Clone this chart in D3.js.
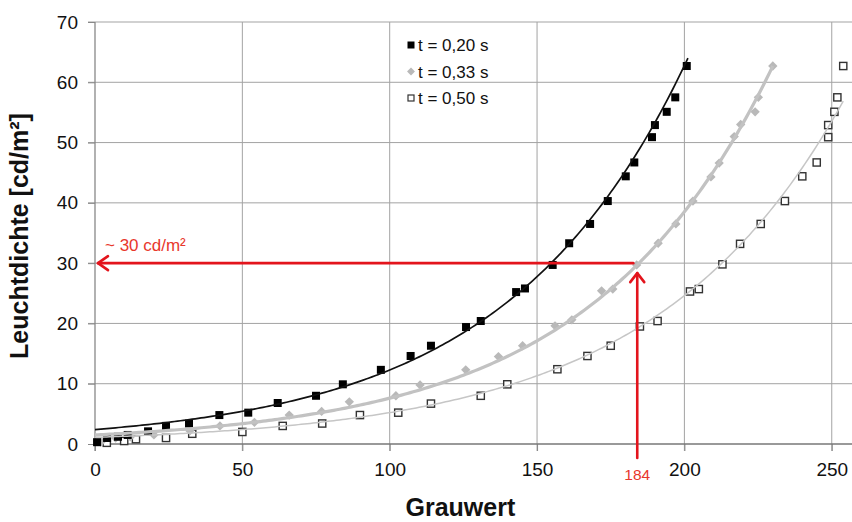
<!DOCTYPE html>
<html><head><meta charset="utf-8">
<script src="https://cdn.jsdelivr.net/npm/d3@7"></script>
<style>
body{margin:0;background:#fff}
svg{display:block}
text{font-family:"Liberation Sans",Arial,Helvetica,sans-serif}
</style>
</head><body>
<svg id="c" width="852" height="522"></svg>
<script>
// ---------- data ----------
const xTicks = [0, 50, 100, 150, 200, 250];
const yTicks = [0, 10, 20, 30, 40, 50, 60, 70];
const seriesNames = ["t = 0,20 s", "t = 0,33 s", "t = 0,50 s"];

const s020X = [0.7, 4.1, 7.8, 11.1, 18.0, 24.1, 31.9, 42.2, 52.0, 62.0, 75.0, 84.1, 97.0, 107.1, 114.0, 125.9, 130.9, 142.9, 145.9, 155.3, 160.9, 168.0, 174.0, 180.1, 183.0, 189.0, 190.0, 194.0, 196.9, 200.8];
const s020Y = [0.3, 1.0, 1.2, 1.5, 2.1, 3.0, 3.4, 4.8, 5.2, 6.8, 8.0, 9.9, 12.3, 14.6, 16.3, 19.4, 20.4, 25.2, 25.8, 29.7, 33.3, 36.5, 40.3, 44.4, 46.7, 50.9, 52.9, 55.1, 57.5, 62.7];

const s033X = [2.0, 7.0, 12.0, 20.0, 32.2, 42.4, 54.1, 65.9, 76.9, 86.3, 102.1, 110.3, 125.8, 136.9, 145.1, 156.1, 161.8, 171.9, 175.7, 183.8, 191.1, 197.1, 202.9, 209.0, 211.8, 216.9, 219.1, 224.0, 225.1, 230.0];
const s033Y = [0.3, 1.0, 1.2, 1.5, 2.2, 3.0, 3.6, 4.8, 5.4, 7.0, 8.0, 9.8, 12.3, 14.5, 16.3, 19.6, 20.6, 25.4, 25.7, 29.7, 33.3, 36.5, 40.3, 44.3, 46.6, 51.0, 53.0, 55.1, 57.5, 62.7];

const s050X = [4.0, 9.9, 13.9, 24.1, 33.0, 50.0, 63.7, 77.1, 89.9, 102.9, 114.0, 130.9, 139.9, 156.9, 167.1, 175.0, 184.9, 190.9, 201.9, 204.9, 212.9, 218.9, 225.9, 234.1, 240.0, 244.9, 248.8, 248.8, 250.9, 251.9, 253.9];
const s050Y = [0.2, 0.5, 0.8, 1.0, 1.7, 2.0, 3.0, 3.4, 4.8, 5.2, 6.7, 8.0, 9.9, 12.4, 14.6, 16.3, 19.5, 20.4, 25.3, 25.7, 29.8, 33.2, 36.5, 40.3, 44.4, 46.7, 50.9, 52.9, 55.1, 57.5, 62.7];

// exponential trendlines y = a * exp(b x), parameters
const trendA = [2.4, 1.5, 1.1];
const trendB = [0.01632, 0.01623, 0.01554];
const trendEnd = [201.2, 230.0, 253.9];

// annotation
const markX = 184, markY = 30;
const markXLabel = "184", markYLabel = "~ 30 cd/m²";

// ---------- chart ----------
const svg = d3.select("#c");
const W = 852, H = 522;
const x = d3.scaleLinear().domain([0, 260]).range([95, 95 + 260 * 2.947]);
const y = d3.scaleLinear().domain([0, 70]).range([444, 22]);
const gridCol = "#a3a3a3";

// grid
svg.append("g").selectAll("line.h").data(yTicks.filter(d => d > 0)).join("line")
  .attr("x1", 88).attr("x2", W).attr("y1", d => y(d)).attr("y2", d => y(d))
  .attr("stroke", gridCol).attr("stroke-width", 1);
svg.append("g").selectAll("line.v").data(xTicks.filter(d => d > 0)).join("line")
  .attr("x1", d => x(d)).attr("x2", d => x(d)).attr("y1", y(70)).attr("y2", y(0) + 7)
  .attr("stroke", gridCol).attr("stroke-width", 1);

// axes
const ax = svg.append("g").attr("transform", `translate(0,${y(0)})`)
  .call(d3.axisBottom(x).tickValues(xTicks).tickSize(7).tickPadding(12).tickFormat(d3.format("d")));
ax.select(".domain").remove();
ax.selectAll(".tick line").attr("stroke", "#888");
ax.selectAll("text").attr("font-size", 19).attr("fill", "#111");
svg.append("line").attr("x1", x(0)).attr("x2", W).attr("y1", y(0)).attr("y2", y(0))
  .attr("stroke", "#777").attr("stroke-width", 1.6);

const ay = svg.append("g").attr("transform", `translate(${x(0)},0)`)
  .call(d3.axisLeft(y).tickValues(yTicks).tickSize(7).tickPadding(10));
ay.select(".domain").remove();
ay.selectAll(".tick line").attr("stroke", "#888");
ay.selectAll("text").attr("font-size", 19).attr("fill", "#111");
svg.append("line").attr("x1", x(0)).attr("x2", x(0)).attr("y1", y(70)).attr("y2", y(0) + 7)
  .attr("stroke", "#888").attr("stroke-width", 1.3);

// axis titles
svg.append("text").attr("x", x(125) - 3).attr("y", 516).attr("text-anchor", "middle")
  .attr("font-size", 25).attr("font-weight", "bold").attr("fill", "#111").text("Grauwert");
svg.append("text").attr("transform", "translate(28,236) rotate(-90)").attr("text-anchor", "middle")
  .attr("font-size", 25).attr("font-weight", "bold").attr("fill", "#111").text("Leuchtdichte [cd/m²]");

// markers
const zip = (xs, ys) => xs.map((v, i) => [v, ys[i]]);
const d020 = zip(s020X, s020Y), d033 = zip(s033X, s033Y), d050 = zip(s050X, s050Y);

const gM = svg.append("g");
gM.selectAll("rect.w").data(d050).join("rect")
  .attr("x", d => x(d[0]) - 3.6).attr("y", d => y(d[1]) - 3.6).attr("width", 7.2).attr("height", 7.2)
  .attr("fill", "#fff").attr("stroke", "#333").attr("stroke-width", 1.4);
gM.selectAll("rect.g").data(d033).join("rect")
  .attr("x", -3.3).attr("y", -3.3).attr("width", 6.6).attr("height", 6.6)
  .attr("transform", d => `translate(${x(d[0])},${y(d[1])}) rotate(45)`)
  .attr("fill", "#b9b9b9");
gM.selectAll("rect.b").data(d020).join("rect")
  .attr("x", d => x(d[0]) - 4).attr("y", d => y(d[1]) - 4).attr("width", 8).attr("height", 8)
  .attr("fill", "#000");

// trendlines
const line = d3.line().x(d => x(d[0])).y(d => y(d[1]));
const trendStyles = [
  {stroke: "#111", width: 1.7},
  {stroke: "#c2c2c2", width: 3.2},
  {stroke: "#c6c6c6", width: 1.5}
];
[2, 1, 0].forEach(i => {
  const pts = d3.range(0, trendEnd[i], 1).concat([trendEnd[i]]).map(v => [v, trendA[i] * Math.exp(trendB[i] * v)]);
  svg.append("path").attr("d", line(pts)).attr("fill", "none")
    .attr("stroke", trendStyles[i].stroke).attr("stroke-width", trendStyles[i].width);
});

// legend
const lg = svg.append("g");
const rowY = [45, 71.5, 98];
seriesNames.forEach((n, i) => {
  const cy = rowY[i], cx = 411;
  if (i === 0) lg.append("rect").attr("x", cx - 3.5).attr("y", cy - 3.5).attr("width", 7).attr("height", 7).attr("fill", "#000");
  if (i === 1) lg.append("rect").attr("x", -2.8).attr("y", -2.8).attr("width", 5.6).attr("height", 5.6)
    .attr("transform", `translate(${cx},${cy}) rotate(45)`).attr("fill", "#b9b9b9");
  if (i === 2) lg.append("rect").attr("x", cx - 3).attr("y", cy - 3).attr("width", 6).attr("height", 6)
    .attr("fill", "#fff").attr("stroke", "#333").attr("stroke-width", 1.2);
  lg.append("text").attr("x", 418).attr("y", cy).attr("dy", "0.36em").attr("font-size", 17)
    .attr("fill", "#111").text(n);
});

// red annotation
const red = "#e3141c";
const ann = svg.append("g").attr("stroke", red).attr("stroke-width", 2.6).attr("fill", "none")
  .attr("stroke-linecap", "round").attr("stroke-linejoin", "round");
// horizontal arrow to the y axis
ann.append("line").attr("x1", x(markX) - 4).attr("x2", x(0) + 3).attr("y1", y(markY)).attr("y2", y(markY));
ann.append("polyline").attr("points", [
  [x(0) + 13, y(markY) - 7], [x(0) + 3, y(markY)], [x(0) + 13, y(markY) + 7]
].map(p => p.join(",")).join(" "));
// vertical arrow from the x axis
const tipY = y(markY) + 10;
ann.append("line").attr("x1", x(markX)).attr("x2", x(markX)).attr("y1", y(0) + 14).attr("y2", tipY);
ann.append("polyline").attr("points", [
  [x(markX) - 7, tipY + 9], [x(markX), tipY], [x(markX) + 7, tipY + 9]
].map(p => p.join(",")).join(" "));

svg.append("text").attr("x", x(markX)).attr("y", 480).attr("text-anchor", "middle")
  .attr("font-size", 15.5).attr("fill", "#e8372c").text(markXLabel);
svg.append("text").attr("x", 105).attr("y", 251).attr("font-size", 17)
  .attr("fill", "#e8372c").text(markYLabel);
</script>
</body></html>
